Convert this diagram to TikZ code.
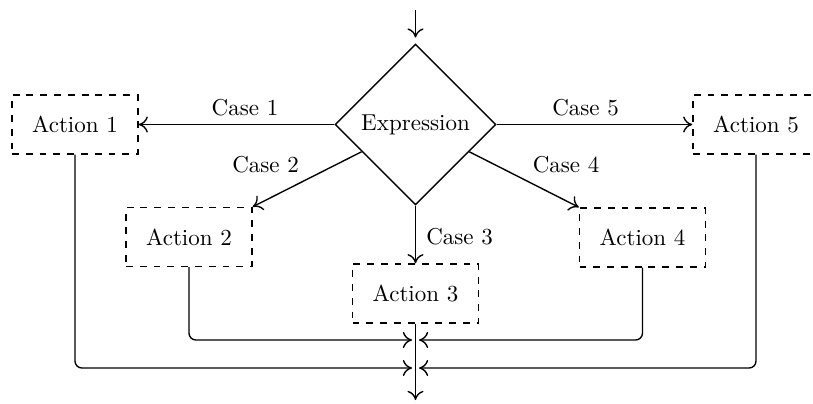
\documentclass[tikz,border=0pt]{standalone}
\usetikzlibrary{shapes.geometric, arrows.meta}
\tikzset{
  flow/.style={semithick, -{To[length=4pt, width=7pt]}},
  action/.style={draw, dashed, semithick, minimum width=54.8pt, minimum height=25.7pt, inner sep=0pt},
  decision/.style={draw, semithick, diamond, minimum size=70pt, inner sep=0pt},
  caselabel/.style={inner sep=0pt}
}
\begin{document}
\begin{tikzpicture}[x=0.435pt, y=-0.435pt]
  \useasboundingbox (0,0) rectangle (813,403);

  % switch expression and the five actions
  \node[decision] (expr) at (415.5,124.5) {Expression};
  \node[action] (a1) at (75,124.5)    {Action 1};
  \node[action] (a2) at (189,237)     {Action 2};
  \node[action] (a3) at (415.5,293.5) {Action 3};
  \node[action] (a4) at (642.5,237.5) {Action 4};
  \node[action] (a5) at (756,124.5)   {Action 5};

  % entry, exit and merge points
  \coordinate (in)  at (415.5,10);
  \coordinate (out) at (415.5,400);
  \coordinate (m2l) at (412,340);
  \coordinate (m2r) at (419,340);
  \coordinate (m1l) at (412,368);
  \coordinate (m1r) at (419,368);

  % branches
  \draw[flow, shorten >=2.5pt] (in) -- (expr.north);
  \draw[flow] (expr.west)  -- (a1.east);
  \draw[flow] (expr.east)  -- (a5.west);
  \draw[flow] (expr)       -- (a2.north east);
  \draw[flow] (expr)       -- (a4.north west);
  \draw[flow] (expr.south) -- (a3.north);

  % merging back
  \draw[flow] (a3.south) -- (out);
  \draw[flow, rounded corners=3pt] (a2.south) |- (m2l);
  \draw[flow, rounded corners=3pt] (a4.south) |- (m2r);
  \draw[flow, rounded corners=3pt] (a1.south) |- (m1l);
  \draw[flow, rounded corners=3pt] (a5.south) |- (m1r);

  % case labels
  \node[caselabel] (c1) at (245,108)   {Case 1};
  \node[caselabel] (c2) at (265.5,164.5) {Case 2};
  \node[caselabel] (c3) at (459.5,237) {Case 3};
  \node[caselabel] (c4) at (566,164.5) {Case 4};
  \node[caselabel] (c5) at (585.5,108) {Case 5};
\end{tikzpicture}
\end{document}
